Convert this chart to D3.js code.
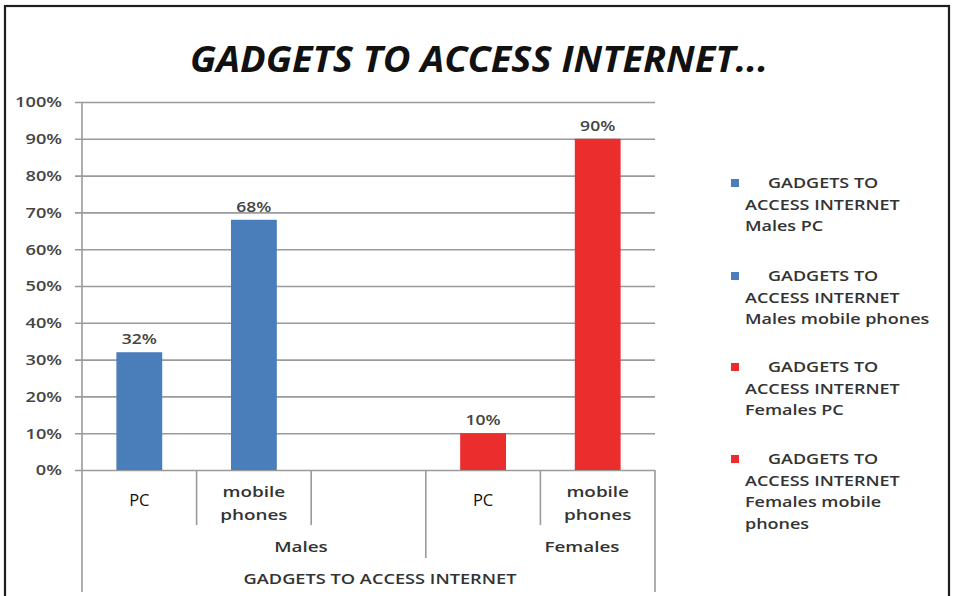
<!DOCTYPE html>
<html>
<head>
<meta charset="utf-8">
<script src="https://cdn.jsdelivr.net/npm/d3@7"></script>
<style>
  html, body { margin: 0; padding: 0; background: #fff; }
  svg { display: block; }
  text { font-family: "Open Sans", "Liberation Sans", sans-serif; }
</style>
</head>
<body>
<svg id="chart" width="956" height="596"></svg>
<script>
// Share of respondents using each gadget to access the internet
const title = "GADGETS TO ACCESS INTERNET...";
const axisTitle = "GADGETS TO ACCESS INTERNET";
const groups = ["Males", "Females"];
const slotGroups = ["Males", "Males", "Males", "Females", "Females"];
const slotLabels = ["PC", "mobile phones", "", "PC", "mobile phones"];
const values = [32, 68, null, 10, 90];
const yTicks = [0, 10, 20, 30, 40, 50, 60, 70, 80, 90, 100];
const legendLabels = [
  ["GADGETS TO", "ACCESS INTERNET", "Males PC"],
  ["GADGETS TO", "ACCESS INTERNET", "Males mobile phones"],
  ["GADGETS TO", "ACCESS INTERNET", "Females PC"],
  ["GADGETS TO", "ACCESS INTERNET", "Females mobile", "phones"]
];
const groupColors = { Males: "#4a7ebb", Females: "#ec2d2d" };

const svg = d3.select("#chart");
const plot = { left: 82, right: 655, top: 102, bottom: 470 };

// stretch a text selection horizontally by a factor
function widen(sel, k) {
  sel.each(function () {
    const len = this.getComputedTextLength();
    d3.select(this).attr("textLength", len * k).attr("lengthAdjust", "spacingAndGlyphs");
  });
  return sel;
}

// outer frame
svg.append("rect")
  .attr("x", 5).attr("y", 6).attr("width", 944).attr("height", 620)
  .attr("fill", "none").attr("stroke", "#1e1e1e").attr("stroke-width", 2.2);

// title
svg.append("text")
  .attr("x", 479).attr("y", 72)
  .attr("text-anchor", "middle")
  .attr("font-size", 35).attr("font-weight", 700).attr("font-style", "italic")
  .attr("fill", "#111")
  .attr("textLength", 578).attr("lengthAdjust", "spacingAndGlyphs")
  .text(title);

const x = d3.scaleBand()
  .domain(d3.range(slotLabels.length))
  .range([plot.left, plot.right])
  .paddingInner(0.6).paddingOuter(0.3);

const y = d3.scaleLinear().domain([0, 100]).range([plot.bottom, plot.top]);

// horizontal gridlines with tick marks and labels
const yAxis = d3.axisLeft(y)
  .tickValues(yTicks)
  .tickSize(-(plot.right - plot.left))
  .tickFormat(d => d + "%");
const gy = svg.append("g").attr("transform", `translate(${plot.left},0)`).call(yAxis);
gy.select(".domain").remove();
gy.selectAll(".tick line")
  .attr("x1", -7)
  .attr("stroke", "#9a9a9a").attr("stroke-width", 1.6);
const tickText = gy.selectAll(".tick text")
  .attr("x", -20).attr("dy", "0.35em")
  .attr("font-size", 14).attr("font-weight", 600).attr("fill", "#444")
  .attr("font-family", "'Open Sans', sans-serif");
widen(tickText, 1.3);

// vertical axis line running down through the category rows
svg.append("line")
  .attr("x1", plot.left).attr("x2", plot.left)
  .attr("y1", plot.top).attr("y2", 592)
  .attr("stroke", "#9a9a9a").attr("stroke-width", 1.6);

// bars
const slots = d3.range(slotLabels.length).map(i => ({
  i, group: slotGroups[i], label: slotLabels[i], value: values[i]
}));
svg.append("g").selectAll("rect")
  .data(slots.filter(d => d.value != null))
  .join("rect")
  .attr("x", d => x(d.i))
  .attr("width", x.bandwidth())
  .attr("y", d => y(d.value))
  .attr("height", d => y(0) - y(d.value))
  .attr("fill", d => groupColors[d.group]);

// value labels
const valueText = svg.append("g").selectAll("text")
  .data(slots.filter(d => d.value != null))
  .join("text")
  .attr("x", d => x(d.i) + x.bandwidth() / 2)
  .attr("y", d => y(d.value) - 8)
  .attr("text-anchor", "middle")
  .attr("font-size", 14).attr("font-weight", 600).attr("fill", "#444")
  .text(d => d.value + "%");
widen(valueText, 1.25);

// category separators
const step = x.step();
const slotLeft = i => plot.left + i * step;
const sep = (xx, y2) => svg.append("line")
  .attr("x1", xx).attr("x2", xx).attr("y1", plot.bottom).attr("y2", y2)
  .attr("stroke", "#9a9a9a").attr("stroke-width", 1.6);

const groupBounds = groups.map(g => {
  const idx = slots.filter(s => s.group === g).map(s => s.i);
  return { g, first: d3.min(idx), last: d3.max(idx) };
});
d3.range(1, slotLabels.length).forEach(i => {
  const isGroupEdge = groupBounds.some(b => b.first === i);
  sep(slotLeft(i), isGroupEdge ? 558 : 525);
});
sep(plot.right, 592);

// category labels (single or two lines)
slots.forEach(d => {
  if (!d.label) return;
  const cx = slotLeft(d.i) + step / 2;
  const words = d.label.split(" ");
  if (words.length === 1) {
    svg.append("text")
      .attr("x", cx).attr("y", 506)
      .attr("text-anchor", "middle")
      .attr("font-size", 16.5).attr("fill", "#111")
      .text(d.label);
  } else {
    words.forEach((w, k) => {
      widen(svg.append("text")
        .attr("x", cx).attr("y", 497 + k * 23)
        .attr("text-anchor", "middle")
        .attr("font-size", 14.5).attr("font-weight", 600).attr("fill", "#333")
        .text(w), 1.3);
    });
  }
});

// group labels
const groupLabelX = { Males: 301, Females: 582 };
groupBounds.forEach(b => {
  widen(svg.append("text")
    .attr("x", groupLabelX[b.g]).attr("y", 552)
    .attr("text-anchor", "middle")
    .attr("font-size", 14.5).attr("font-weight", 600).attr("fill", "#333")
    .text(b.g), 1.3);
});

// axis title
widen(svg.append("text")
  .attr("x", 380).attr("y", 584)
  .attr("text-anchor", "middle")
  .attr("font-size", 14).attr("font-weight", 600).attr("fill", "#333")
  .text(axisTitle), 1.3);

// legend
const legendColors = slots.filter(d => d.value != null).map(d => groupColors[d.group]);
const legendY = [183, 276, 367, 459];
legendLabels.forEach((lines, k) => {
  const g = svg.append("g").attr("transform", `translate(0,${legendY[k]})`);
  g.append("rect")
    .attr("x", 731).attr("y", -4).attr("width", 8).attr("height", 8)
    .attr("fill", legendColors[k]);
  lines.forEach((t, j) => {
    widen(g.append("text")
      .attr("x", j === 0 ? 768 : 745)
      .attr("y", 5 + j * 21.5)
      .attr("font-size", 14.5).attr("font-weight", 600).attr("fill", "#333")
      .text(t), 1.24);
  });
});
</script>
</body>
</html>
